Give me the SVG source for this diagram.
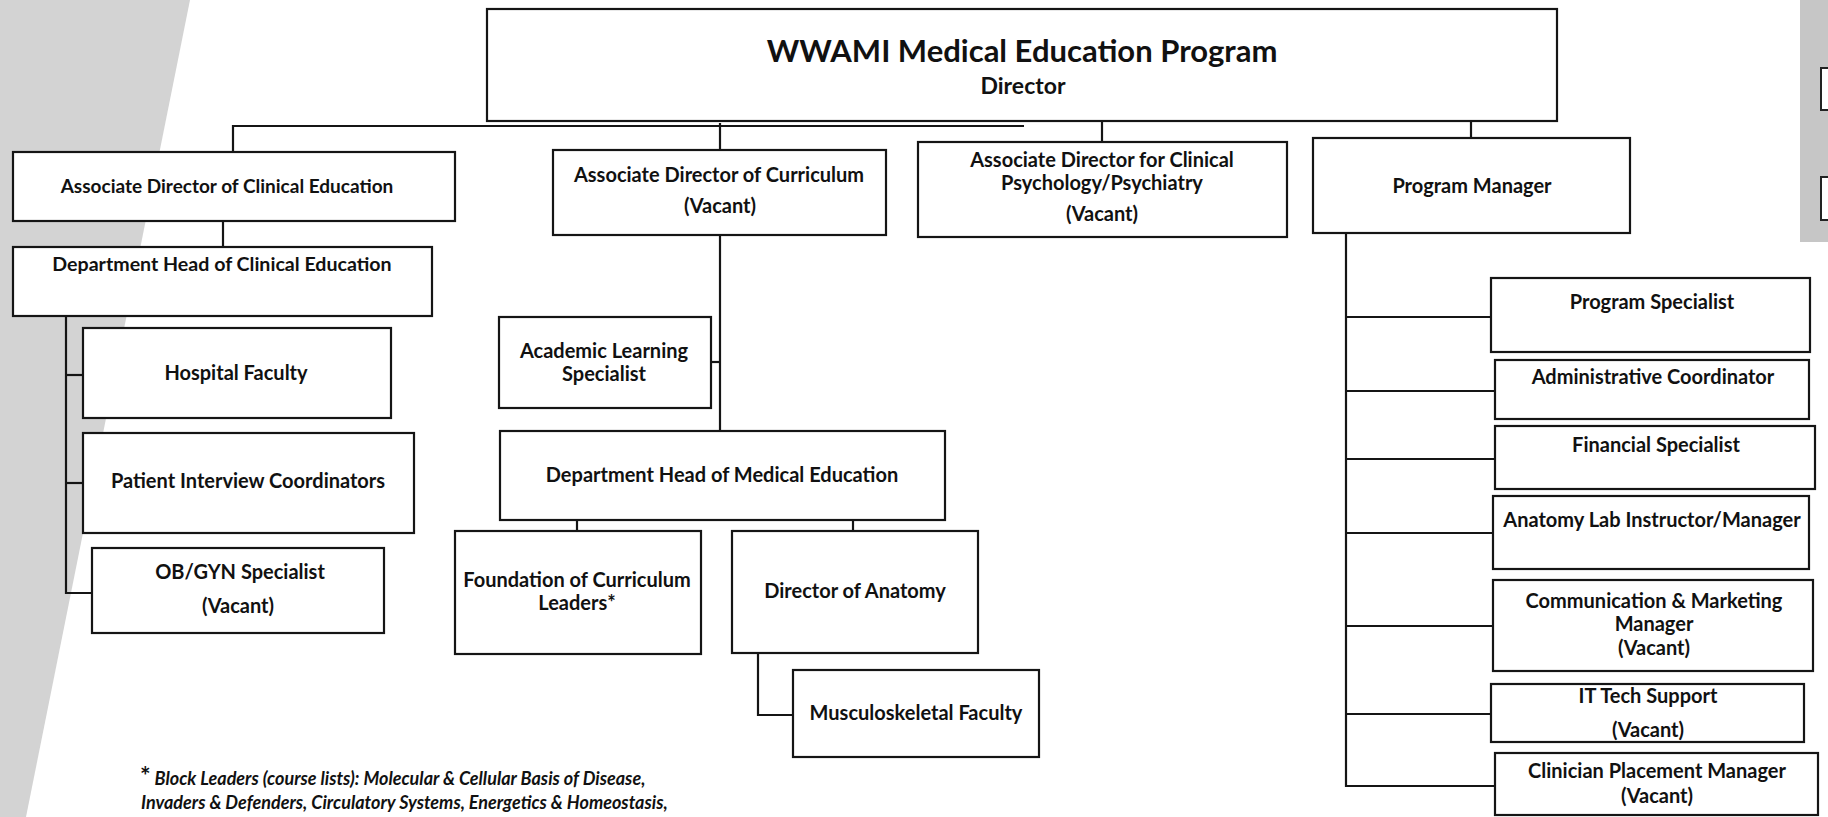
<svg xmlns="http://www.w3.org/2000/svg" width="1828" height="817" viewBox="0 0 1828 817">
<style>
.box{fill:#fff;stroke:#151515;stroke-width:2.2}
.ln{fill:none;stroke:#151515;stroke-width:2.2}
.t{font-family:Lato,"Liberation Sans",sans-serif;font-weight:bold;font-size:20px;fill:#111;text-anchor:middle}
.fn{font-family:Lato,"Liberation Sans",sans-serif;font-weight:bold;font-style:italic;font-size:18px;fill:#111}
</style>
<rect x="0" y="0" width="1828" height="817" fill="#fff"/>
<polygon points="0,0 190,0 26,817 0,817" fill="#d3d3d3"/>
<rect x="1800" y="0" width="28" height="242" fill="#c6c6c6"/>
<rect x="1821" y="68" width="12" height="42" fill="#fff" stroke="#222" stroke-width="2"/>
<rect x="1821" y="177" width="12" height="43" fill="#fff" stroke="#222" stroke-width="2"/>

<g id="connectors">
<path class="ln" d="M233,152 V126 H1024"/>
<path class="ln" d="M720,123 V150"/>
<path class="ln" d="M1102,121 V142"/>
<path class="ln" d="M1471,120 V138"/>
<path class="ln" d="M223,221 V247"/>
<path class="ln" d="M66,316 V593 H92"/>
<path class="ln" d="M66,375 H83"/>
<path class="ln" d="M66,483 H83"/>
<path class="ln" d="M720,235 V431"/>
<path class="ln" d="M720,362 H711"/>
<path class="ln" d="M577,520 V531"/>
<path class="ln" d="M853,520 V531"/>
<path class="ln" d="M758,653 V715 H793"/>
<path class="ln" d="M1346,233 V786 H1495"/>
<path class="ln" d="M1346,317 H1491"/>
<path class="ln" d="M1346,391 H1495"/>
<path class="ln" d="M1346,459 H1495"/>
<path class="ln" d="M1346,533 H1493"/>
<path class="ln" d="M1346,626 H1493"/>
<path class="ln" d="M1346,714 H1491"/>
</g>

<g id="director">
<rect class="box" x="487" y="9" width="1070" height="112"/>
<text class="t" x="1022" y="62" style="font-size:31px">WWAMI Medical Education Program</text>
<text class="t" x="1023" y="94" style="font-size:23px">Director</text>
</g>

<g id="ad-clinical-ed">
<rect class="box" x="13" y="152" width="442" height="69"/>
<text class="t" x="227" y="193" style="font-size:19px">Associate Director of Clinical Education</text>
</g>

<g id="dh-clinical-ed">
<rect class="box" x="13" y="247" width="419" height="69"/>
<text class="t" x="222" y="271" style="font-size:19.6px">Department Head of Clinical Education</text>
</g>

<g id="hospital-faculty">
<rect class="box" x="83" y="328" width="308" height="90"/>
<text class="t" x="236" y="380">Hospital Faculty</text>
</g>

<g id="patient-interview">
<rect class="box" x="83" y="433" width="331" height="100"/>
<text class="t" x="248" y="488">Patient Interview Coordinators</text>
</g>

<g id="obgyn">
<rect class="box" x="92" y="548" width="292" height="85"/>
<text class="t" x="240" y="579">OB/GYN Specialist</text>
<text class="t" x="238" y="613">(Vacant)</text>
</g>

<g id="ad-curriculum">
<rect class="box" x="553" y="150" width="333" height="85"/>
<text class="t" x="719" y="182">Associate Director of Curriculum</text>
<text class="t" x="720" y="213">(Vacant)</text>
</g>

<g id="academic-learning">
<rect class="box" x="499" y="317" width="212" height="91"/>
<text class="t" x="604" y="358">Academic Learning</text>
<text class="t" x="604" y="381">Specialist</text>
</g>

<g id="dh-medical-ed">
<rect class="box" x="500" y="431" width="445" height="89"/>
<text class="t" x="722" y="482">Department Head of Medical Education</text>
</g>

<g id="foundation">
<rect class="box" x="455" y="531" width="246" height="123"/>
<text class="t" x="577" y="587">Foundation of Curriculum</text>
<text class="t" x="577" y="610">Leaders*</text>
</g>

<g id="dir-anatomy">
<rect class="box" x="732" y="531" width="246" height="122"/>
<text class="t" x="855" y="598">Director of Anatomy</text>
</g>

<g id="musculoskeletal">
<rect class="box" x="793" y="670" width="246" height="87"/>
<text class="t" x="916" y="720">Musculoskeletal Faculty</text>
</g>

<g id="ad-clinical-psych">
<rect class="box" x="918" y="142" width="369" height="95"/>
<text class="t" x="1102" y="167">Associate Director for Clinical</text>
<text class="t" x="1102" y="190">Psychology/Psychiatry</text>
<text class="t" x="1102" y="221">(Vacant)</text>
</g>

<g id="program-manager">
<rect class="box" x="1313" y="138" width="317" height="95"/>
<text class="t" x="1472" y="193">Program Manager</text>
</g>

<g id="program-specialist">
<rect class="box" x="1491" y="278" width="319" height="74"/>
<text class="t" x="1652" y="309">Program Specialist</text>
</g>

<g id="admin-coordinator">
<rect class="box" x="1495" y="360" width="314" height="59"/>
<text class="t" x="1653" y="384">Administrative Coordinator</text>
</g>

<g id="financial-specialist">
<rect class="box" x="1495" y="426" width="320" height="63"/>
<text class="t" x="1656" y="452">Financial Specialist</text>
</g>

<g id="anatomy-lab">
<rect class="box" x="1493" y="496" width="316" height="73"/>
<text class="t" x="1652" y="527">Anatomy Lab Instructor/Manager</text>
</g>

<g id="comm-marketing">
<rect class="box" x="1493" y="580" width="320" height="91"/>
<text class="t" x="1654" y="608">Communication &amp; Marketing</text>
<text class="t" x="1654" y="631">Manager</text>
<text class="t" x="1654" y="655">(Vacant)</text>
</g>

<g id="it-support">
<rect class="box" x="1491" y="684" width="313" height="58"/>
<text class="t" x="1648" y="703">IT Tech Support</text>
<text class="t" x="1648" y="737">(Vacant)</text>
</g>

<g id="clinician-placement">
<rect class="box" x="1495" y="753" width="323" height="62"/>
<text class="t" x="1657" y="778">Clinician Placement Manager</text>
<text class="t" x="1657" y="803">(Vacant)</text>
</g>

<g id="footnote">
<text class="fn" x="140" y="785"><tspan style="font-size:25px;font-style:normal">*</tspan> Block Leaders (course lists): Molecular &amp; Cellular Basis of Disease,</text>
<text class="fn" x="141" y="809">Invaders &amp; Defenders, Circulatory Systems, Energetics &amp; Homeostasis,</text>
</g>
</svg>
